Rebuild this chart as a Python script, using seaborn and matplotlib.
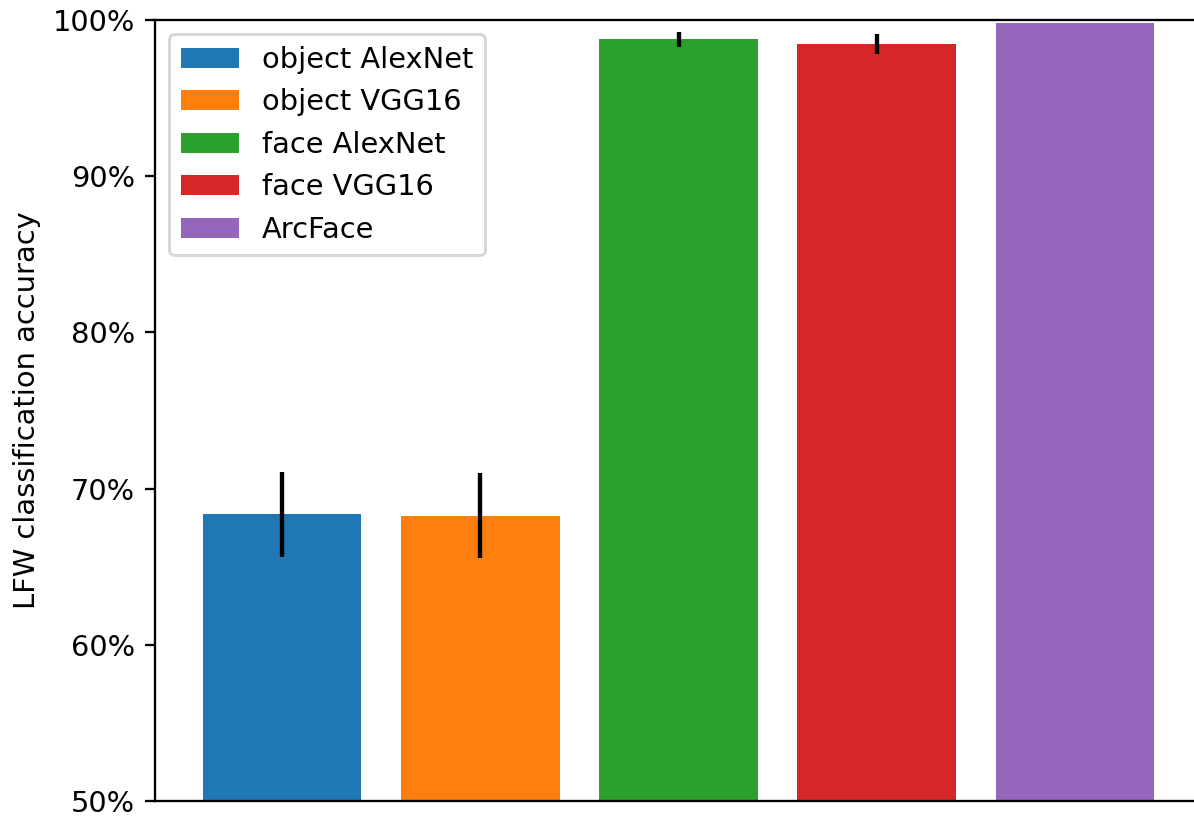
import matplotlib
matplotlib.use("Agg")
import matplotlib.pyplot as plt
from matplotlib.patches import Patch
from matplotlib.ticker import PercentFormatter
import seaborn as sns

# LFW accuracy per model (percent) and spread across runs
models = ["object AlexNet", "object VGG16", "face AlexNet", "face VGG16", "ArcFace"]
accuracy = [68.37, 68.27, 98.76, 98.46, 99.78]
accuracy_err = [2.72, 2.70, 0.47, 0.62, 0.0]
colors = ["#1f77b4", "#ff7f0e", "#2ca02c", "#d62728", "#9467bd"]

DPI = 208
fig = plt.figure(figsize=(1194 / DPI, 816 / DPI), dpi=DPI)
ax = fig.add_axes([155 / 1194, 15 / 816, (1202 - 155) / 1194, 781 / 816])

sns.barplot(x=models, y=accuracy, hue=models, palette=colors, saturation=1,
            width=0.8, legend=False, ax=ax)

# error bars centred on each bar
ax.errorbar(range(len(models)), accuracy, yerr=accuracy_err, fmt="none",
            ecolor="black", elinewidth=1.5, capsize=0)

ax.set_xlim(-0.64, 4.64)
ax.set_ylim(50, 100)
ax.yaxis.set_major_formatter(PercentFormatter(xmax=100, decimals=0))
ax.set_xticks([])
ax.set_xlabel("")
ax.set_ylabel("LFW classification accuracy")

handles = [Patch(facecolor=c, label=m) for c, m in zip(colors, models)]
ax.legend(handles=handles, loc="upper left")

fig.savefig("out.png", dpi=DPI)
